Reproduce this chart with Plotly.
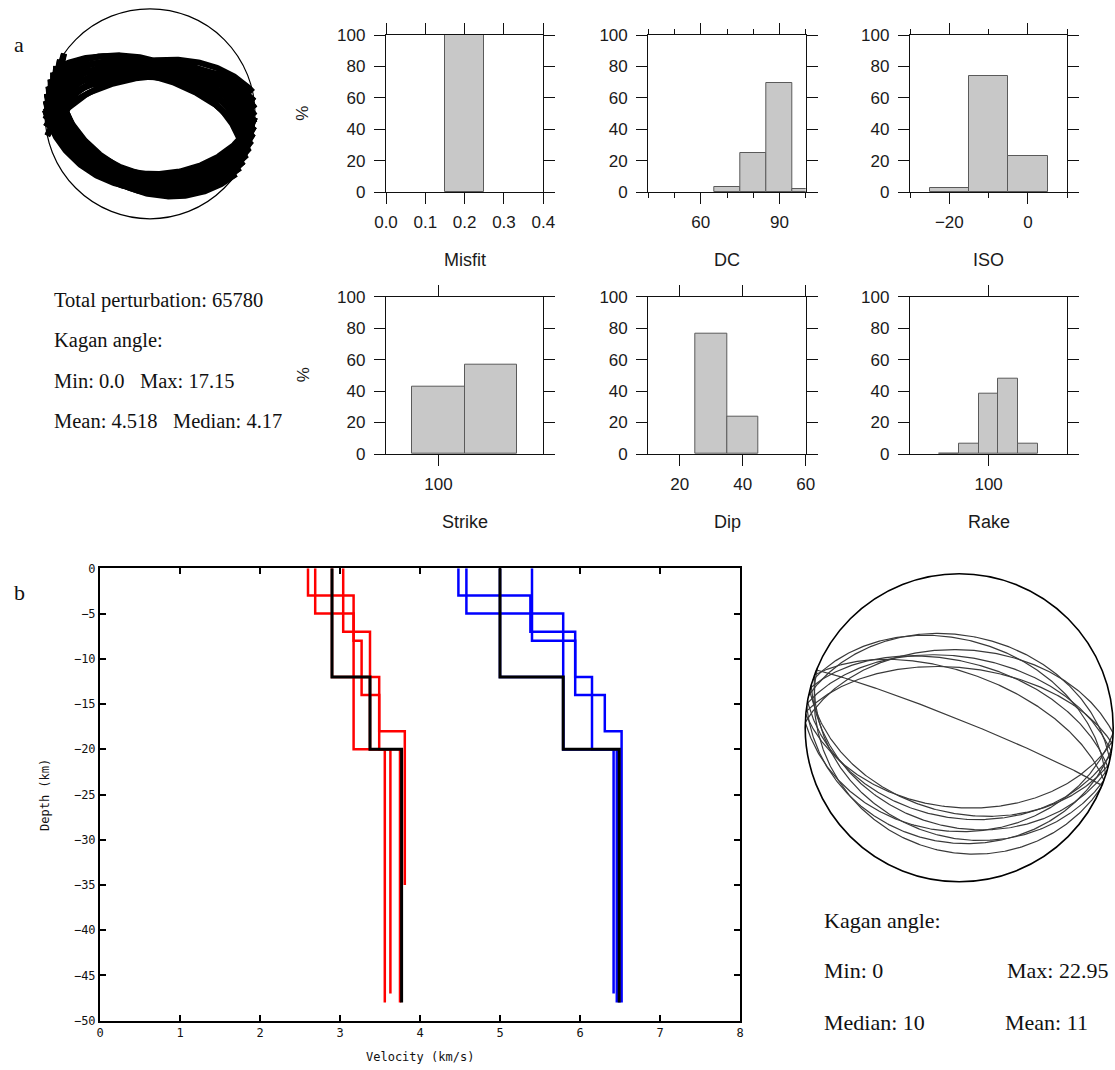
import numpy as np
import plotly.graph_objects as go

W, H = 1115, 1070

# ---------------- data ----------------
misfit_bins = [0.2]
misfit_pct = [100.0]
misfit_width = 0.1
dc_bins = [70, 80, 90, 100]
dc_pct = [3.2, 25.2, 69.2, 2.4]
iso_bins = [-20, -10, 0]
iso_pct = [2.5, 74.2, 23.3]
strike_bins = [100, 120]
strike_pct = [43.0, 57.0]
dip_bins = [30, 40]
dip_pct = [76.2, 23.8]
rake_bins = [80, 90, 100, 110, 120]
rake_pct = [0.3, 6.8, 38.6, 47.9, 6.4]

# velocity models: layer boundary depths (km) and velocities (km/s)
vs_ref_depth = [0, 12, 20, 48]
vs_ref_vel = [2.90, 3.375, 3.77]
vp_ref_depth = [0, 12, 20, 48]
vp_ref_vel = [5.00, 5.79, 6.49]

vs1_depth = [0, 3, 20, 48]
vs1_vel = [2.60, 3.17, 3.56]
vs2_depth = [0, 5, 8, 14, 18, 35]
vs2_vel = [2.69, 3.17, 3.27, 3.49, 3.81]
vs3_depth = [0, 7, 12, 20, 47]
vs3_vel = [3.04, 3.375, 3.49, 3.63]
vs4_depth = [0, 12, 20, 48]
vs4_vel = [2.90, 3.375, 3.75]

vp1_depth = [0, 3, 7, 14, 18, 48]
vp1_vel = [4.48, 5.38, 5.94, 6.31, 6.52]
vp2_depth = [0, 5, 20, 48]
vp2_vel = [4.58, 5.79, 6.46]
vp3_depth = [0, 8, 12, 20, 47]
vp3_vel = [5.40, 5.94, 6.15, 6.42]
vp4_depth = [0, 12, 20, 48]
vp4_vel = [5.00, 5.79, 6.49]

# beachball (a): nodal planes of sampled solutions (strike, dip in degrees)
bb1_strike_a = [92, 92, 92, 97, 97, 101, 101, 101, 105, 105, 109, 109, 109,
                113, 113, 117, 117, 117, 121, 121, 125, 125]
bb1_dip_a = [29, 36, 42, 32, 39, 28, 35, 42, 31, 38, 29, 35, 42,
             32, 39, 28, 35, 41, 31, 38, 29, 35]
bb1_strike_b = [258, 258, 263, 263, 267, 267, 271, 271, 275, 275,
                279, 279, 283, 283, 287, 287, 291, 291, 295]
bb1_dip_b = [49, 57, 53, 61, 49, 57, 53, 61, 49, 57,
             53, 61, 49, 57, 53, 61, 49, 57, 53]

# beachball (b): nodal planes of the solutions (strike, dip in degrees)
bb2_strike = [292, 282, 288, 279, 285, 276, 290, 272,
              95, 100, 106, 92, 110, 98, 113, 104]
bb2_dip = [86, 40, 43, 52, 55, 58, 61, 48,
           47, 41, 36, 33, 30, 26, 21, 44]

# text
stats_a = ["Total perturbation: 65780", "Kagan angle:",
           "Min: 0.0   Max: 17.15", "Mean: 4.518   Median: 4.17"]
stats_b = [("Kagan angle:", 822, 920), ("Min: 0", 822, 970), ("Max: 22.95", 1005, 970),
           ("Median: 10", 822, 1022), ("Mean: 11", 1003, 1022)]


# ---------------- helpers ----------------
def dom_x(a, b):
    return [a / W, b / W]


def dom_y(a, b):
    return [1 - b / H, 1 - a / H]


def plane_xy(strike, dip, n=241):
    """lower-hemisphere equal-area trace of a nodal plane"""
    s = np.radians(strike)
    d = np.radians(dip)
    t = np.linspace(0, np.pi, n)
    dn = np.cos(d) * np.cos(s + np.pi / 2)
    de = np.cos(d) * np.sin(s + np.pi / 2)
    dd = np.sin(d)
    vn = np.cos(t) * np.cos(s) + np.sin(t) * dn
    ve = np.cos(t) * np.sin(s) + np.sin(t) * de
    vd = np.sin(t) * dd
    plunge = np.arcsin(np.clip(vd, -1, 1))
    trend = np.arctan2(ve, vn)
    r = np.sqrt(2) * np.sin((np.pi / 2 - plunge) / 2)
    return r * np.sin(trend), r * np.cos(trend)


def steps(depth, vel):
    x = list(vel) + [vel[-1]]
    y = [-v for v in depth]
    return x, y


fig = go.Figure()
layout = dict(width=W, height=H,
              margin=dict(l=0, r=0, t=0, b=0, pad=0, autoexpand=False),
              paper_bgcolor="white", plot_bgcolor="white", showlegend=False,
              bargap=0)
annotations = []
shapes = []

hfont = dict(family="Liberation Sans, Arial, sans-serif", size=17, color="#1a1a1a")
tfont = dict(family="Liberation Sans, Arial, sans-serif", size=18, color="#1a1a1a")

cols = [(386, 543.3), (648.3, 805.7), (910, 1067.3)]
rows = [(35, 192.3), (296.7, 454)]
hists = [
    (misfit_bins, misfit_pct, misfit_width, [0, 0.4], 0.1, None, "Misfit"),
    (dc_bins, dc_pct, 10, [40, 100], 30, 10, "DC"),
    (iso_bins, iso_pct, 10, [-30, 10], 20, 10, "ISO"),
    (strike_bins, strike_pct, 20, [80, 140], 100, None, "Strike"),
    (dip_bins, dip_pct, 10, [10, 60], 20, None, "Dip"),
    (rake_bins, rake_pct, 10, [60, 140], 100, None, "Rake"),
]
for i, (cx, cy, bw, xr, dt, mdt, title) in enumerate(hists):
    k = i + 1
    r, c = divmod(i, 3)
    xa = "x" if k == 1 else f"x{k}"
    ya = "y" if k == 1 else f"y{k}"
    fig.add_trace(go.Bar(x=cx, y=cy, width=[bw] * len(cx), xaxis=xa, yaxis=ya,
                         marker=dict(color="#c8c8c8", line=dict(color="#5a5a5a", width=1)),
                         hoverinfo="skip"))
    xkey = "xaxis" if k == 1 else f"xaxis{k}"
    ykey = "yaxis" if k == 1 else f"yaxis{k}"
    common = dict(showline=True, linecolor="#111", linewidth=1.3, mirror="allticks",
                  ticks="outside", ticklen=11, tickwidth=1.3, tickcolor="#111",
                  showgrid=False, zeroline=False, tickfont=hfont, fixedrange=True,
                  automargin=False)
    xd = dict(common, domain=dom_x(*cols[c]), range=xr, tick0=0, dtick=dt,
              anchor=ya, ticklabelstandoff=3)
    if k == 1:
        xd["tickformat"] = ".1f"
    if mdt:
        xd["minor"] = dict(dtick=mdt, tick0=0, ticks="outside", ticklen=5,
                           tickwidth=1.3, tickcolor="#111", showgrid=False)
    layout[xkey] = xd
    layout[ykey] = dict(common, domain=dom_y(*rows[r]), range=[0, 100], dtick=20,
                        anchor=xa, ticklabelstandoff=5)
    xc = (cols[c][0] + cols[c][1]) / 2
    ty = 260 if r == 0 else 522
    annotations.append(dict(text=title, x=xc / W, y=1 - ty / H, xref="paper", yref="paper",
                            showarrow=False, font=tfont, xanchor="center", yanchor="middle"))
    if c == 0:
        py = (rows[r][0] + rows[r][1]) / 2
        annotations.append(dict(text="%", x=303 / W, y=1 - py / H, xref="paper", yref="paper",
                                showarrow=False, font=hfont, textangle=-90,
                                xanchor="center", yanchor="middle"))

# ---------------- beachball (a) ----------------
R1 = 105.0
c1 = (150.0, 113.8)
rng = 1.06
layout["xaxis7"] = dict(domain=dom_x(c1[0] - rng * R1, c1[0] + rng * R1), range=[-rng, rng],
                        visible=False, anchor="y7", fixedrange=True)
layout["yaxis7"] = dict(domain=dom_y(c1[1] - rng * R1, c1[1] + rng * R1), range=[-rng, rng],
                        visible=False, anchor="x7", fixedrange=True)
for s, d in list(zip(bb1_strike_a, bb1_dip_a)) + list(zip(bb1_strike_b, bb1_dip_b)):
    x, y = plane_xy(s, d)
    fig.add_trace(go.Scatter(x=x, y=y, xaxis="x7", yaxis="y7", mode="lines",
                             line=dict(color="black", width=6), hoverinfo="skip"))
shapes.append(dict(type="circle", xref="x7", yref="y7", x0=-1, y0=-1, x1=1, y1=1,
                   line=dict(color="black", width=1.2)))

sfont = dict(family="Liberation Serif, Times New Roman, serif", size=20.5, color="#111")
for j, t in enumerate(stats_a):
    annotations.append(dict(text=t, x=52 / W, y=1 - (300 + 40.5 * j) / H, xref="paper",
                            yref="paper", showarrow=False, font=sfont,
                            xanchor="left", yanchor="middle"))

for lab, ly in [("a", 44), ("b", 592)]:
    annotations.append(dict(text=lab, x=12 / W, y=1 - ly / H, xref="paper", yref="paper",
                            showarrow=False, font=dict(sfont, size=22), xanchor="left",
                            yanchor="middle"))

# ---------------- velocity profile ----------------
vfont = dict(family="DejaVu Sans Mono, monospace", size=12, color="#111")
for dep, vel in [(vs1_depth, vs1_vel), (vs2_depth, vs2_vel), (vs3_depth, vs3_vel),
                 (vs4_depth, vs4_vel)]:
    x, y = steps(dep, vel)
    fig.add_trace(go.Scatter(x=x, y=y, xaxis="x8", yaxis="y8", mode="lines",
                             line=dict(color="#ff0000", width=2.5, shape="vh"),
                             hoverinfo="skip"))
for dep, vel in [(vp1_depth, vp1_vel), (vp2_depth, vp2_vel), (vp3_depth, vp3_vel),
                 (vp4_depth, vp4_vel)]:
    x, y = steps(dep, vel)
    fig.add_trace(go.Scatter(x=x, y=y, xaxis="x8", yaxis="y8", mode="lines",
                             line=dict(color="#0000ff", width=2.5, shape="vh"),
                             hoverinfo="skip"))
for dep, vel in [(vs_ref_depth, vs_ref_vel), (vp_ref_depth, vp_ref_vel)]:
    x, y = steps(dep, vel)
    fig.add_trace(go.Scatter(x=x, y=y, xaxis="x8", yaxis="y8", mode="lines",
                             line=dict(color="black", width=3, shape="vh"),
                             hoverinfo="skip"))
vcommon = dict(showline=True, linecolor="black", linewidth=2, mirror="allticks",
               ticks="inside", ticklen=6, tickwidth=1.5, tickcolor="black",
               showgrid=False, zeroline=False, tickfont=vfont, fixedrange=True,
               automargin=False)
layout["xaxis8"] = dict(vcommon, domain=dom_x(100, 740), range=[0, 8], dtick=1, anchor="y8")
layout["yaxis8"] = dict(vcommon, domain=dom_y(568.3, 1020.7), range=[-50, 0], dtick=5,
                        anchor="x8")
annotations.append(dict(text="Velocity (km/s)", x=420 / W, y=1 - 1057 / H, xref="paper",
                        yref="paper", showarrow=False, font=vfont, xanchor="center",
                        yanchor="middle"))
annotations.append(dict(text="Depth (km)", x=45 / W, y=1 - 795 / H, xref="paper",
                        yref="paper", showarrow=False, font=vfont, textangle=-90,
                        xanchor="center", yanchor="middle"))

# ---------------- beachball (b) ----------------
R2 = 154.0
c2 = (959.2, 727.7)
xlo, xhi = 802.0, 1115.0
ylo, yhi = c2[1] - 1.03 * R2, c2[1] + 1.03 * R2
layout["xaxis9"] = dict(domain=dom_x(xlo, xhi),
                        range=[-(c2[0] - xlo) / R2, (xhi - c2[0]) / R2],
                        visible=False, anchor="y9", fixedrange=True)
layout["yaxis9"] = dict(domain=dom_y(ylo, yhi), range=[-1.03, 1.03],
                        visible=False, anchor="x9", fixedrange=True)
for s, d in zip(bb2_strike, bb2_dip):
    x, y = plane_xy(s, d)
    fig.add_trace(go.Scatter(x=x, y=y, xaxis="x9", yaxis="y9", mode="lines",
                             line=dict(color="#3a3a3a", width=1.2), hoverinfo="skip"))
shapes.append(dict(type="circle", xref="x9", yref="y9", x0=-1, y0=-1, x1=1, y1=1,
                   line=dict(color="black", width=1.6)))

bfont = dict(family="Liberation Serif, Times New Roman, serif", size=22, color="#111")
for txt, px, py in stats_b:
    annotations.append(dict(text=txt, x=px / W, y=1 - py / H, xref="paper", yref="paper",
                            showarrow=False, font=bfont, xanchor="left", yanchor="middle"))

layout["annotations"] = annotations
layout["shapes"] = shapes
fig.update_layout(**layout)
fig.write_html("out.html", config={"responsive": False, "displayModeBar": False},
               post_script="document.body.style.margin='0px';"
                           "document.body.style.overflow='hidden';"
                           "document.documentElement.style.overflow='hidden';")
